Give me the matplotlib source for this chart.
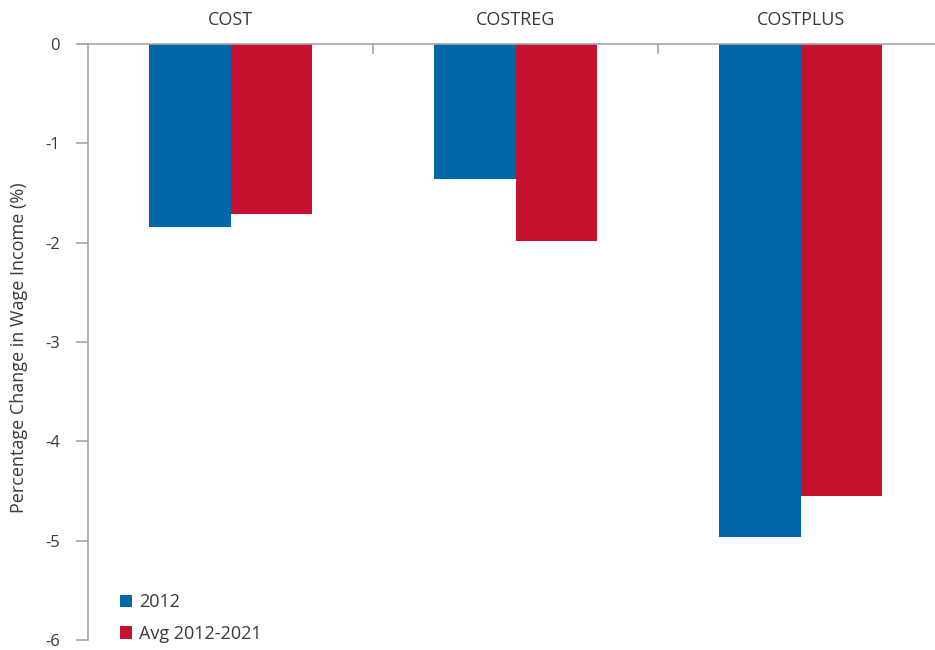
import matplotlib
matplotlib.use('Agg')
import matplotlib.pyplot as plt
import numpy as np

plt.rcParams['font.family'] = ['Open Sans', 'DejaVu Sans']

categories = ['COST', 'COSTREG', 'COSTPLUS']
series_names = ['2012', 'Avg 2012-2021']
values_2012 = [-1.84, -1.36, -4.96]
values_avg = [-1.71, -1.98, -4.55]
y_ticks = [0, -1, -2, -3, -4, -5, -6]

blue = '#0067a9'
red = '#c41230'
axis_grey = '#a6a6a6'
text_grey = '#3a3a3a'

fig = plt.figure(figsize=(9.35, 6.5), dpi=100)
# right edge deliberately past the figure, the source chart is clipped there
ax = fig.add_axes([88 / 935, 10 / 650, 855 / 935, 596 / 650])

x = np.arange(len(categories))
w = 0.287
ax.bar(x - w / 2, values_2012, w, color=blue, label=series_names[0])
ax.bar(x + w / 2, values_avg, w, color=red, label=series_names[1])

ax.set_xlim(-0.5, len(categories) - 0.5)
ax.set_ylim(-6, 0)

for s in ['bottom', 'right']:
    ax.spines[s].set_visible(False)
for s in ['left', 'top']:
    ax.spines[s].set_color(axis_grey)
    ax.spines[s].set_linewidth(1.2)

ax.set_yticks(y_ticks)
ax.set_yticklabels([str(t) for t in y_ticks])
ax.tick_params(axis='y', direction='out', length=9, width=1.2, color=axis_grey,
               labelsize=12, labelcolor=text_grey, pad=11)

ax.xaxis.tick_top()
ax.set_xticks(x)
ax.set_xticklabels(categories)
ax.set_xticks(x[:-1] + 0.5, minor=True)
ax.tick_params(axis='x', which='major', length=0, pad=11, labelsize=13, labelcolor=text_grey)
ax.tick_params(axis='x', which='minor', direction='in', length=7, width=1.2, color=axis_grey)

ax.set_ylabel('Percentage Change in Wage Income (%)', fontsize=13, color=text_grey)
ax.yaxis.set_label_coords(-0.070, 0.49)

ax.legend(loc='lower left', bbox_to_anchor=(0.018, -0.032), frameon=False, fontsize=13,
          handlelength=0.67, handleheight=0.67, handletextpad=0.4, labelspacing=0.74,
          labelcolor=text_grey)

fig.savefig('out.png', dpi=100)
